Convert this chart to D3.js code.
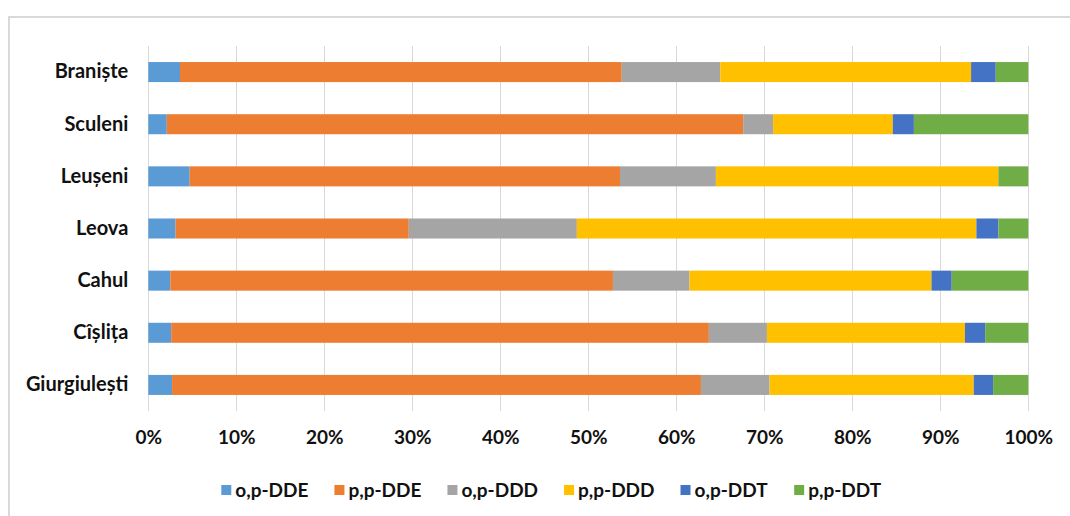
<!DOCTYPE html>
<html>
<head>
<meta charset="utf-8">
<script src="https://cdn.jsdelivr.net/npm/d3@7"></script>
<style>
  html, body { margin: 0; padding: 0; background: #fff; }
  svg { display: block; }
  text { font-family: Lato, "Open Sans", sans-serif; font-weight: 700; fill: #111; }
</style>
</head>
<body>
<svg id="chart" width="1070" height="516"></svg>
<script>
// Sampling sites (top to bottom)
const sites = ["Braniște", "Sculeni", "Leușeni", "Leova", "Cahul", "Cîșlița", "Giurgiulești"];

// Share of each DDT metabolite per site, %
const opDDE = [3.6, 2.1, 4.7, 3.1, 2.5, 2.6, 2.7];
const ppDDE = [50.2, 65.5, 48.9, 26.5, 50.3, 61.1, 60.1];
const opDDD = [11.2, 3.4, 10.9, 19.1, 8.7, 6.6, 7.8];
const ppDDD = [28.5, 13.6, 32.1, 45.4, 27.5, 22.5, 23.2];
const opDDT = [2.8, 2.4, 0.0, 2.5, 2.3, 2.3, 2.2];
const ppDDT = [3.7, 13.0, 3.4, 3.4, 8.7, 4.9, 4.0];

const seriesNames = ["o,p-DDE", "p,p-DDE", "o,p-DDD", "p,p-DDD", "o,p-DDT", "p,p-DDT"];
const seriesValues = [opDDE, ppDDE, opDDD, ppDDD, opDDT, ppDDT];
const seriesColors = ["#5B9BD5", "#ED7D31", "#A5A5A5", "#FFC000", "#4472C4", "#70AD47"];

const tickValues = [0, 0.1, 0.2, 0.3, 0.4, 0.5, 0.6, 0.7, 0.8, 0.9, 1.0];

const svg = d3.select("#chart");

// chart frame
svg.append("rect")
  .attr("x", 9).attr("y", 17)
  .attr("width", 1100).attr("height", 560)
  .attr("fill", "#fff")
  .attr("stroke", "#d9d9d9")
  .attr("stroke-width", 2);

const plot = { left: 148.3, right: 1028.3, top: 46, bottom: 411 };

const x = d3.scaleLinear().domain([0, 1]).range([plot.left, plot.right]);
const y = d3.scaleBand().domain(sites)
  .range([plot.top, plot.bottom])
  .paddingInner(0.616).paddingOuter(0.308);

// normalised rows for the 100% stack
const rows = sites.map((s, i) => {
  const r = { site: s };
  const total = d3.sum(seriesValues, v => v[i]);
  seriesNames.forEach((n, k) => { r[n] = seriesValues[k][i] / total; });
  return r;
});
const stacked = d3.stack().keys(seriesNames)(rows);

// vertical gridlines
svg.append("g")
  .selectAll("line")
  .data(tickValues)
  .join("line")
  .attr("x1", d => Math.round(x(d)) + 0.5)
  .attr("x2", d => Math.round(x(d)) + 0.5)
  .attr("y1", plot.top)
  .attr("y2", plot.bottom)
  .attr("stroke", "#d9d9d9")
  .attr("stroke-width", 1);

// bars
svg.append("g")
  .selectAll("g")
  .data(stacked)
  .join("g")
  .attr("fill", (d, i) => seriesColors[i])
  .selectAll("rect")
  .data(d => d)
  .join("rect")
  .attr("x", d => x(d[0]))
  .attr("y", d => y(d.data.site))
  .attr("width", d => Math.max(0, x(d[1]) - x(d[0])))
  .attr("height", y.bandwidth());

// category axis labels
const yAxis = d3.axisLeft(y).tickSize(0).tickPadding(20);
const gy = svg.append("g")
  .attr("transform", `translate(${plot.left},0)`)
  .call(yAxis);
gy.select(".domain").remove();
gy.selectAll("text")
  .style("font-size", "20px")
  .style("font-family", "Lato, sans-serif")
  .style("font-weight", "700")
  .attr("fill", "#111");

// percentage axis labels
const xAxis = d3.axisBottom(x).tickValues(tickValues).tickSize(0).tickPadding(20)
  .tickFormat(d3.format(".0%"));
const gx = svg.append("g")
  .attr("transform", `translate(0,${plot.bottom})`)
  .call(xAxis);
gx.select(".domain").remove();
gx.selectAll("text")
  .style("font-size", "19px")
  .style("font-family", "Lato, sans-serif")
  .style("font-weight", "700")
  .attr("fill", "#111");

// legend
const legend = svg.append("g");
const items = legend.selectAll("g")
  .data(seriesNames)
  .join("g");
items.append("rect")
  .attr("width", 10).attr("height", 10)
  .attr("y", -5)
  .attr("fill", (d, i) => seriesColors[i]);
items.append("text")
  .attr("x", 14)
  .attr("dy", "0.36em")
  .style("font-size", "19px")
  .text(d => d);

let cursor = 0;
items.each(function () {
  const w = this.getBBox().width;
  d3.select(this).attr("transform", `translate(${cursor},0)`);
  cursor += w + 26;
});
const legendWidth = cursor - 26;
const legendCenter = 551.5;
legend.attr("transform", `translate(${legendCenter - legendWidth / 2},490)`);
</script>
</body>
</html>
